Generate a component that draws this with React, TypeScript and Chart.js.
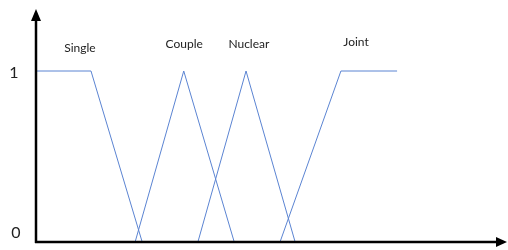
import React, { useEffect, useRef } from "react";
import { Chart, registerables } from "chart.js";

Chart.register(...registerables);

const categories = ["Single", "Couple", "Nuclear", "Joint"];
const singleX = [0, 11.65, 22.5];
const singleY = [1, 1, 0];
const coupleX = [21.0, 31.3, 42.0];
const coupleY = [0, 1, 0];
const nuclearX = [34.3, 44.5, 54.9];
const nuclearY = [0, 1, 0];
const jointX = [51.7, 64.6, 76.5];
const jointY = [0, 1, 1];
const yTickLabels = ["0", "1"];

const seriesX = [singleX, coupleX, nuclearX, jointX];
const seriesY = [singleY, coupleY, nuclearY, jointY];

const LINE_COLOR = "#5b84d2";
const FONT = "Lato, 'Open Sans', sans-serif";

const decorPlugin = {
  id: "decor",
  afterDraw(chart: any) {
    const { ctx, chartArea, scales } = chart;
    const x = scales.x;
    const y = scales.y;
    const x0 = chartArea.left;
    const y0 = y.getPixelForValue(0);
    ctx.save();
    // axes
    ctx.strokeStyle = "#000";
    ctx.fillStyle = "#000";
    ctx.lineWidth = 2.5;
    ctx.beginPath();
    ctx.moveTo(x0, y0 + 1);
    ctx.lineTo(x0, chartArea.top + 10);
    ctx.stroke();
    ctx.beginPath();
    ctx.moveTo(x0 - 1, y0);
    ctx.lineTo(chartArea.right - 8, y0);
    ctx.stroke();
    // arrowheads
    ctx.beginPath();
    ctx.moveTo(x0, chartArea.top);
    ctx.lineTo(x0 - 5, chartArea.top + 12);
    ctx.lineTo(x0 + 5, chartArea.top + 12);
    ctx.closePath();
    ctx.fill();
    ctx.beginPath();
    ctx.moveTo(chartArea.right - 1, y0);
    ctx.lineTo(chartArea.right - 12, y0 - 5);
    ctx.lineTo(chartArea.right - 12, y0 + 5);
    ctx.closePath();
    ctx.fill();
    // y tick labels
    ctx.font = `16px ${FONT}`;
    ctx.textAlign = "center";
    ctx.textBaseline = "middle";
    ctx.fillStyle = "#222";
    ctx.fillText(yTickLabels[1], 14, y.getPixelForValue(1) + 2);
    ctx.fillText(yTickLabels[0], 16, y0 - 9);
    // series labels
    const opts = chart.options.plugins.decor;
    ctx.font = `12px ${FONT}`;
    ctx.fillStyle = "#222";
    categories.forEach((c, i) => {
      ctx.fillText(c, x.getPixelForValue(opts.labelX[i]), y.getPixelForValue(opts.labelY[i]));
    });
    ctx.restore();
  },
};

export default function App() {
  const ref = useRef<HTMLCanvasElement>(null);
  useEffect(() => {
    document.body.style.margin = "0";
    const chart = new Chart(ref.current!, {
      type: "scatter",
      data: {
        datasets: categories.map((c, i) => ({
          label: c,
          data: seriesX[i].map((v, j) => ({ x: v, y: seriesY[i][j] })),
          showLine: true,
          borderColor: LINE_COLOR,
          borderWidth: 1,
          pointRadius: 0,
          tension: 0,
          fill: false,
        })),
      },
      options: {
        animation: false,
        responsive: false,
        layout: { padding: { left: 36, right: 0, top: 9, bottom: 8 } },
        scales: {
          x: { type: "linear", min: 0, max: 100, display: false },
          y: { type: "linear", min: 0, max: 1.3626, display: false },
        },
        plugins: {
          legend: { display: false },
          tooltip: { enabled: false },
          decor: {
            labelX: [9.3, 31.4, 45.1, 67.8],
            labelY: [1.135, 1.16, 1.16, 1.17],
          },
        } as any,
      },
      plugins: [decorPlugin],
    });
    return () => chart.destroy();
  }, []);
  return (
    <div style={{ width: 508, height: 250 }}>
      <canvas ref={ref} width={508} height={250} />
    </div>
  );
}
